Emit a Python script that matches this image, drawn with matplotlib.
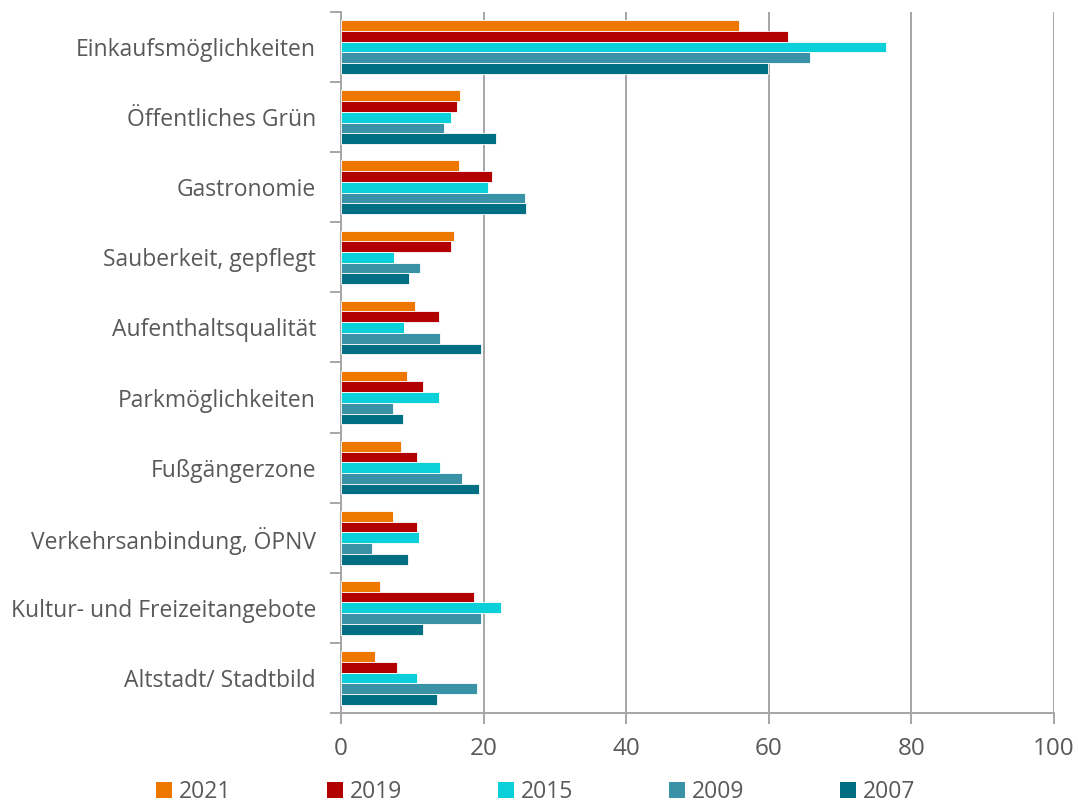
import numpy as np
import matplotlib.pyplot as plt
from matplotlib.patches import Patch

plt.rcParams['font.family'] = ['Open Sans', 'DejaVu Sans']

# --- data ---
categories = ['Einkaufsmöglichkeiten', 'Öffentliches Grün', 'Gastronomie',
              'Sauberkeit, gepflegt', 'Aufenthaltsqualität', 'Parkmöglichkeiten',
              'Fußgängerzone', 'Verkehrsanbindung, ÖPNV',
              'Kultur- und Freizeitangebote', 'Altstadt/ Stadtbild']
years = ['2021', '2019', '2015', '2009', '2007']
v2021 = [55.8, 16.7, 16.6, 15.9, 10.4, 9.3, 8.4, 7.3, 5.5, 4.7]
v2019 = [62.7, 16.3, 21.2, 15.4, 13.7, 11.5, 10.6, 10.6, 18.7, 7.8]
v2015 = [76.4, 15.4, 20.6, 7.5, 8.8, 13.7, 13.9, 11.0, 22.5, 10.7]
v2009 = [65.8, 14.4, 25.8, 11.1, 13.9, 7.3, 17.0, 4.3, 19.7, 19.1]
v2007 = [59.9, 21.8, 26.0, 9.6, 19.6, 8.7, 19.3, 9.4, 11.5, 13.5]
series = [v2021, v2019, v2015, v2009, v2007]
colors = ['#EE7700', '#B20000', '#0BCFD9', '#3A92A7', '#016F83']

text_col = '#595959'
grid_col = '#A6A6A6'

fig = plt.figure(figsize=(10.78, 8.05), dpi=100)
ax = fig.add_axes([341/1078, 1 - 713/805, 713/1078, 701/805])

n = len(categories)
centers = np.arange(n)[::-1]  # first category at top
bar_h = 0.153
for i, (vals, c) in enumerate(zip(series, colors)):
    offs = (i - 2) * bar_h
    ax.barh(centers - offs, vals, height=bar_h, color=c,
            edgecolor='white', linewidth=0.6, zorder=3)

ax.set_xlim(0, 100)
ax.set_ylim(-0.5, n - 0.5)
ax.set_xticks(np.arange(0, 101, 20))
ax.xaxis.grid(True, color=grid_col, linewidth=1.4, zorder=0)
ax.tick_params(axis='x', colors=grid_col, labelcolor=text_col,
               labelsize=17.5, length=8, width=1.4, pad=9)

# category labels centered, boundary ticks as minor ticks
ax.set_yticks(centers)
ax.set_yticklabels(categories)
ax.set_yticks(np.arange(-0.5, n), minor=True)
ax.tick_params(axis='y', which='major', length=0, labelsize=16.5,
               labelcolor=text_col, pad=18)
ax.tick_params(axis='y', which='minor', length=8, width=1.4, colors=grid_col)

for s in ['top', 'right']:
    ax.spines[s].set_visible(False)
for s in ['left', 'bottom']:
    ax.spines[s].set_color(grid_col)
    ax.spines[s].set_linewidth(1.4)

handles = [Patch(facecolor=c, label=y) for c, y in zip(colors, years)]
fig.legend(handles=handles, loc='lower center', ncol=5, frameon=False,
           bbox_to_anchor=(0.497, -0.024), fontsize=16.5, labelcolor=text_col,
           handlelength=0.68, handleheight=0.68, handletextpad=0.3,
           columnspacing=4.2)

fig.savefig('out.png', dpi=100)
